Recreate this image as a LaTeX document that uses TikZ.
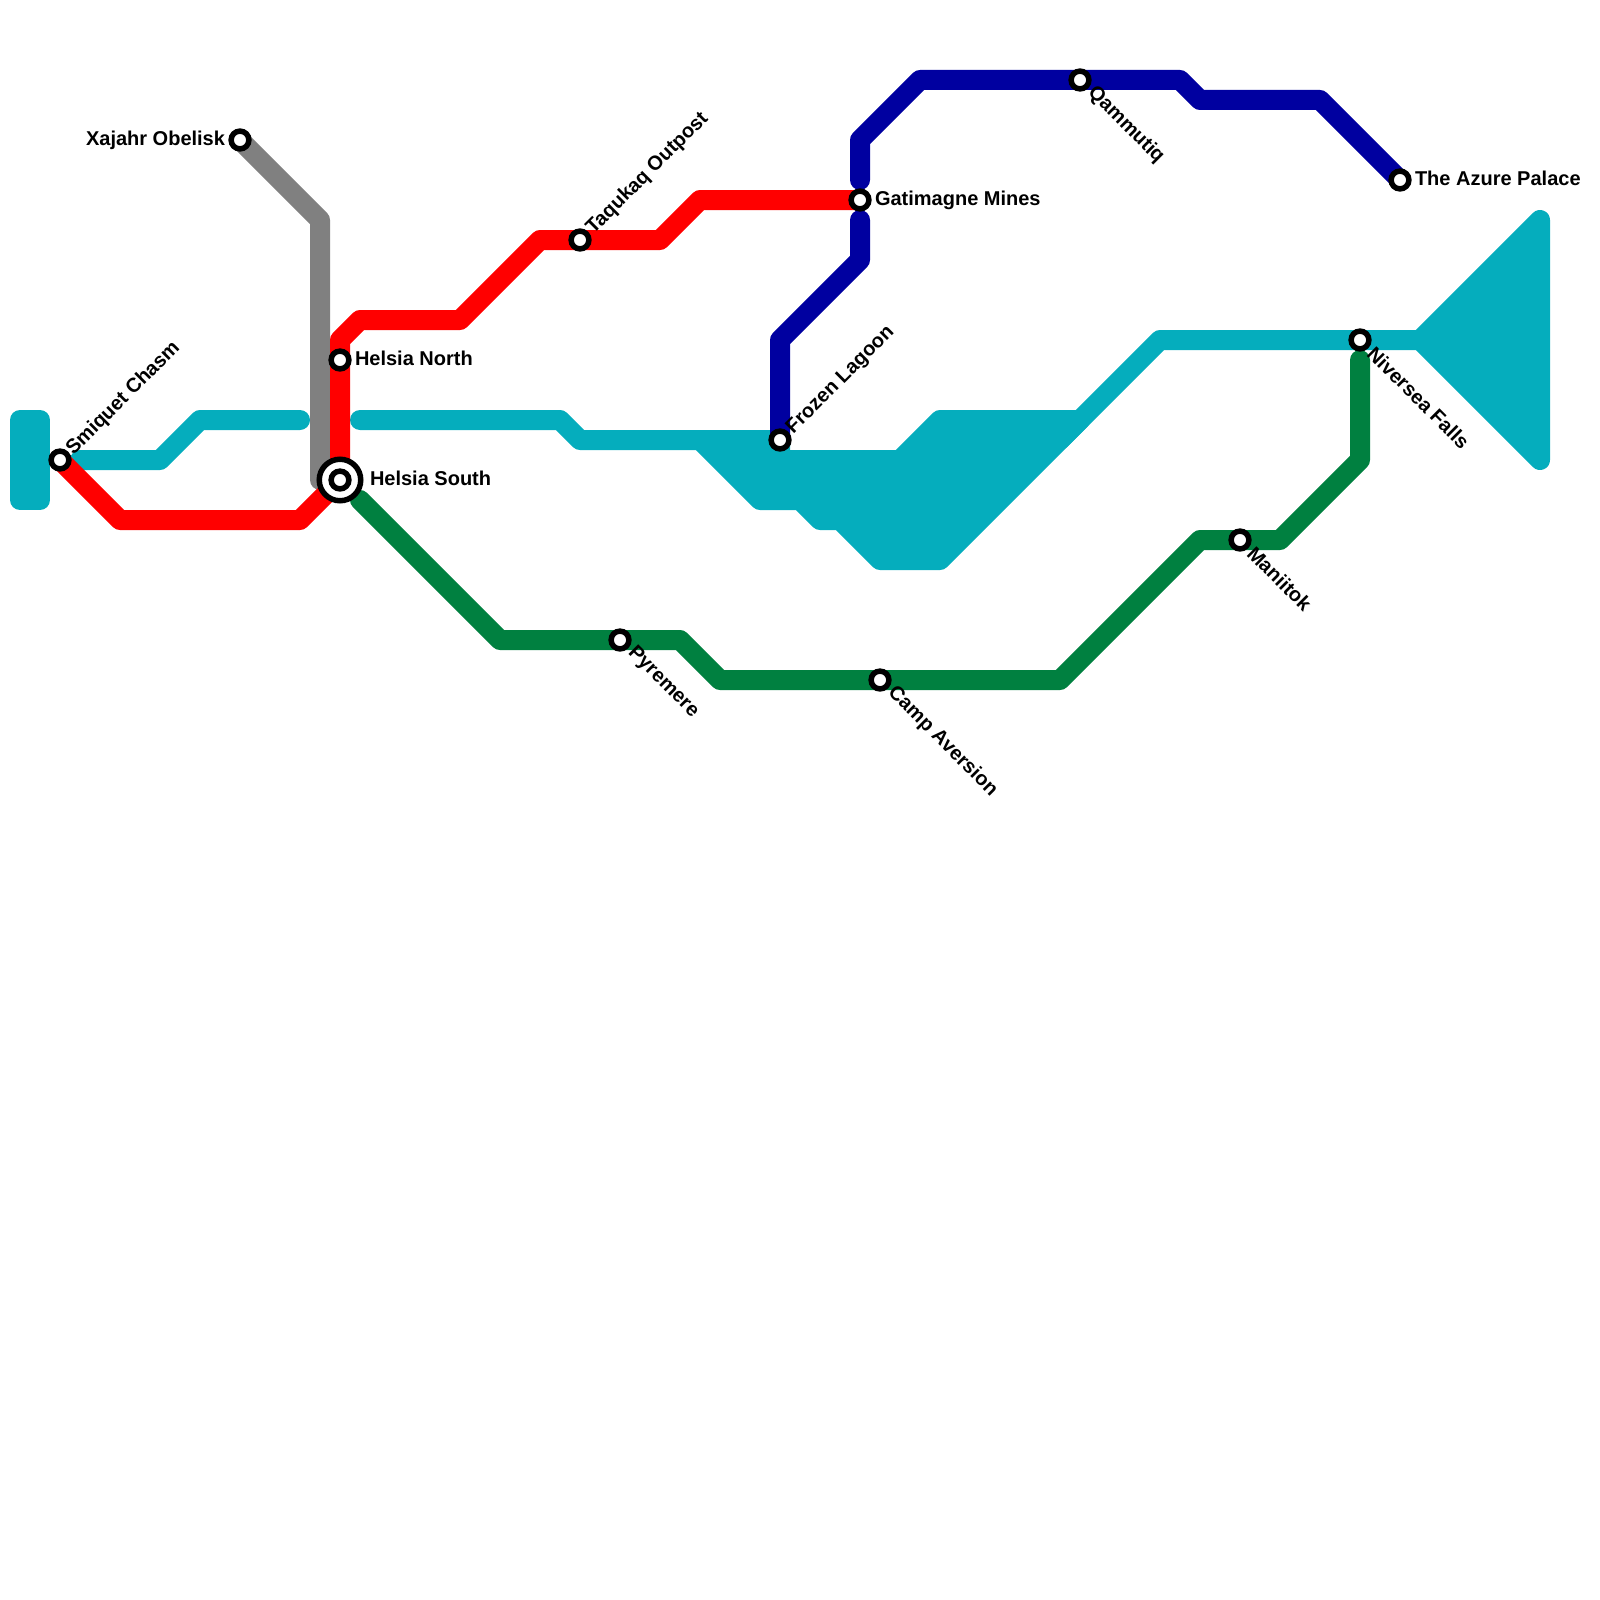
\documentclass[tikz,border=0pt]{standalone}
\usepackage{fontspec}
\setmainfont{Liberation Sans}
\definecolor{teal1}{HTML}{05ADBD}
\definecolor{red1}{HTML}{FF0000}
\definecolor{blue1}{HTML}{0000A0}
\definecolor{green1}{HTML}{008040}
\definecolor{gray1}{HTML}{808080}
\tikzset{
  x=1pt,y=-1pt,
  metro/.style={line width=20pt,line cap=round,line join=round},
  blob/.style={metro,draw=teal1,fill=teal1},
  stn/.style={circle,draw=black,fill=white,line width=5.5pt,minimum size=17.8pt,inner sep=0pt,outer sep=0pt},
  bigstn/.style={circle,draw=black,fill=white,line width=5.5pt,minimum size=41.5pt,inner sep=0pt,outer sep=0pt},
  lbl/.style={font=\fontsize{20}{24}\selectfont\bfseries,inner sep=0pt,outer sep=0pt,text=black},
  lblr/.style={lbl,anchor=west},
  lbll/.style={lbl,anchor=east},
  lblu/.style={lbl,anchor=west,rotate=45},
  lbld/.style={lbl,anchor=west,rotate=-45}
}
\begin{document}
\begin{tikzpicture}
\useasboundingbox (0,0) rectangle (1600,1600);
% station positions
\coordinate (smiquet) at (60,460);
\coordinate (xajahr) at (240,140);
\coordinate (hnorth) at (340,360);
\coordinate (hsouth) at (340,480);
\coordinate (taqukaq) at (580,240);
\coordinate (frozen) at (780,440);
\coordinate (gatimagne) at (860,200);
\coordinate (qammutiq) at (1080,80);
\coordinate (azure) at (1400,180);
\coordinate (niversea) at (1360,340);
\coordinate (maniitok) at (1240,540);
\coordinate (camp) at (880,680);
\coordinate (pyremere) at (620,640);
% free line ends
\coordinate (tealA) at (80,460);
\coordinate (tealB) at (300,420);
\coordinate (tealC) at (360,420);
\coordinate (blueA) at (860,220);
\coordinate (blueB) at (860,180);
\coordinate (greenA) at (360,500);
\coordinate (greenB) at (1360,360);
\coordinate (grayEnd) at (320,480);
% teal
\filldraw[blob] (20,420) -- (40,420) -- (40,500) -- (20,500) -- cycle;
\draw[metro,teal1] (tealA) -- (160,460) -- (200,420) -- (tealB);
\draw[metro,teal1] (tealC) -- (560,420) -- (580,440) -- (frozen);
\filldraw[blob] (700,440) -- (frozen) -- (780,460) -- (900,460) -- (940,420) -- (1080,420) -- (940,560) -- (880,560) -- (840,520) -- (820,520) -- (800,500) -- (760,500) -- cycle;
\draw[metro,teal1] (1060,440) -- (1160,340) -- (niversea) -- (1420,340);
\filldraw[blob] (1420,340) -- (1540,220) -- (1540,460) -- cycle;
% gray
\draw[metro,gray1] (xajahr) -- (320,220) -- (grayEnd);
% red
\draw[metro,red1] (smiquet) -- (120,520) -- (300,520) -- (hsouth) -- (hnorth) -- (340,340) -- (360,320) -- (460,320) -- (540,240) -- (taqukaq) -- (660,240) -- (700,200) -- (gatimagne);
% blue
\draw[metro,blue1] (frozen) -- (780,340) -- (860,260) -- (blueA);
\draw[metro,blue1] (blueB) -- (860,140) -- (920,80) -- (qammutiq) -- (1180,80) -- (1200,100) -- (1320,100) -- (azure);
% green
\draw[metro,green1] (greenA) -- (500,640) -- (pyremere) -- (680,640) -- (720,680) -- (camp) -- (1060,680) -- (1200,540) -- (maniitok) -- (1280,540) -- (1360,460) -- (greenB);
% stations
\node[stn] (nSmiquet) at (smiquet) {};
\node[stn] (nXajahr) at (xajahr) {};
\node[stn] (nHnorth) at (hnorth) {};
\node[bigstn] (nHsouthOuter) at (hsouth) {};
\node[stn] (nHsouth) at (hsouth) {};
\node[stn] (nTaqukaq) at (taqukaq) {};
\node[stn] (nFrozen) at (frozen) {};
\node[stn] (nGatimagne) at (gatimagne) {};
\node[stn] (nQammutiq) at (qammutiq) {};
\node[stn] (nAzure) at (azure) {};
\node[stn] (nNiversea) at (niversea) {};
\node[stn] (nManiitok) at (maniitok) {};
\node[stn] (nCamp) at (camp) {};
\node[stn] (nPyremere) at (pyremere) {};
% labels
\node[lblu] (tSmiquet) at (70,452) {Smiquet Chasm};
\node[lbll] (tXajahr) at (225,140) {Xajahr Obelisk};
\node[lblr] (tHnorth) at (355,358) {Helsia North};
\node[lblr] (tHsouth) at (370,478) {Helsia South};
\node[lblu] (tTaqukaq) at (590,231) {Taqukaq Outpost};
\node[lblu] (tFrozen) at (790,431) {Frozen Lagoon};
\node[lblr] (tGatimagne) at (875,200) {Gatimagne Mines};
\node[lbld] (tQammutiq) at (1091,90) {Qammutiq};
\node[lblr] (tAzure) at (1415,178) {The Azure Palace};
\node[lbld] (tNiversea) at (1371,350) {Niversea Falls};
\node[lbld] (tManiitok) at (1251,550) {Maniitok};
\node[lbld] (tCamp) at (891,690) {Camp Aversion};
\node[lbld] (tPyremere) at (631,650) {Pyremere};
\end{tikzpicture}
\end{document}
